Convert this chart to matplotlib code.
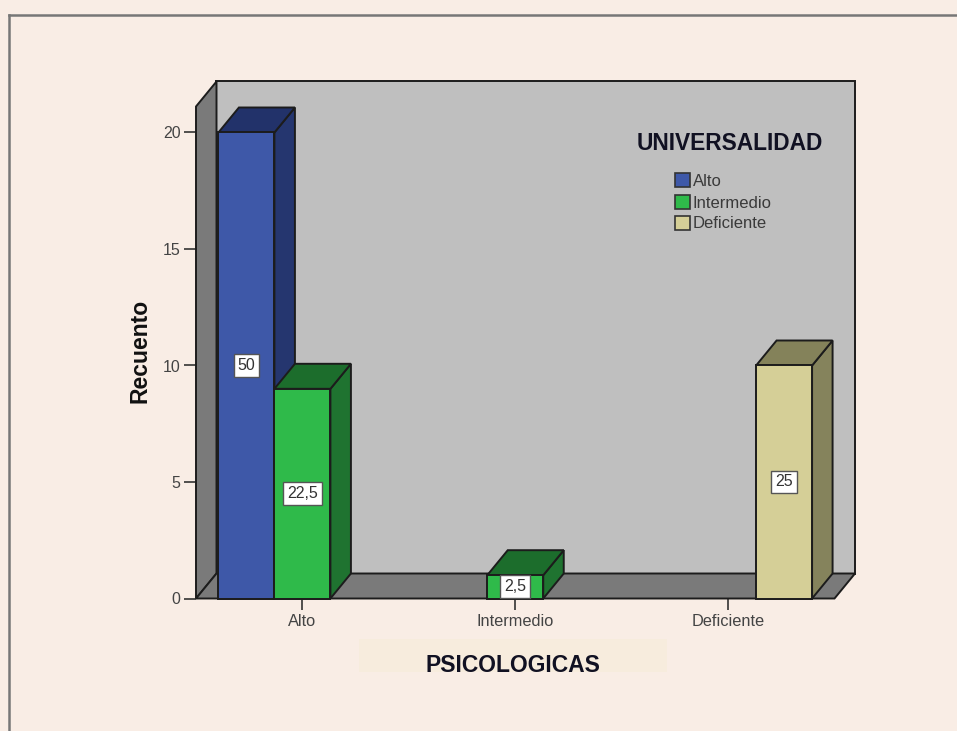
import matplotlib
matplotlib.use('Agg')
import matplotlib.pyplot as plt
from matplotlib.patches import Polygon, Rectangle

plt.rcParams['font.family'] = ['Liberation Sans', 'DejaVu Sans']

categories = ['Alto', 'Intermedio', 'Deficiente']
series_names = ['Alto', 'Intermedio', 'Deficiente']
alto_counts = [20, 0, 0]
intermedio_counts = [9, 1, 0]
deficiente_counts = [0, 0, 10]
alto_labels = ['50', '', '']
intermedio_labels = ['22,5', '2,5', '']
deficiente_labels = ['', '', '25']
y_ticks = [0, 5, 10, 15, 20]

front_colors = ['#3e58a8', '#2fba4a', '#d5cf97']
top_colors = ['#22326a', '#1c6d2c', '#84825a']
side_colors = ['#25366f', '#1f7330', '#85835c']
edge = '#1c1c1c'

W, H = 957, 731
fig = plt.figure(figsize=(W / 100, H / 100), dpi=100, facecolor='#f9ede5')


def fig_rect(x0, y0, x1, y1):
    return [x0 / W, 1 - y1 / H, (x1 - x0) / W, (y1 - y0) / H]


# frame of the screenshot, only top and left are visible
fig.add_artist(plt.Line2D([9 / W, 9 / W], [0, 1 - 15 / H], color='#777777', lw=1.8))
fig.add_artist(plt.Line2D([9 / W, 1], [1 - 15 / H, 1 - 15 / H], color='#777777', lw=1.8))

# front plane of the 3d box
left, right, bottom, top = 196, 834.5, 598.5, 106.5
ax = fig.add_axes(fig_rect(left, top, right, bottom))
ax.patch.set_visible(False)
ax.set_xlim(-0.5, 2.5)
ax.set_ylim(0, (bottom - top) / 23.3)
for s in ax.spines.values():
    s.set_visible(False)

dx = 20.5 * 3 / (right - left)
dy = 25 / 23.3
ymax = ax.get_ylim()[1]
bar_w = 56 * 3 / (right - left)

# back wall, side wall and floor
ax.add_patch(Rectangle((-0.5 + dx, dy), 3, ymax, fc='#bfbfbf', ec=edge, lw=1.4,
                       clip_on=False, zorder=1))
ax.add_patch(Polygon([(-0.5, 0), (-0.5 + dx, dy), (-0.5 + dx, ymax + dy), (-0.5, ymax)],
                     fc='#7a7a7a', ec=edge, lw=1.4, clip_on=False, zorder=2))
ax.add_patch(Polygon([(-0.5, 0), (-0.5 + dx, dy), (2.5 + dx, dy), (2.5, 0)],
                     fc='#7a7a7a', ec=edge, lw=1.4, clip_on=False, zorder=2))

all_counts = [alto_counts, intermedio_counts, deficiente_counts]
all_labels = [alto_labels, intermedio_labels, deficiente_labels]

for i, counts in enumerate(all_counts):
    offset = (i - 1) * bar_w
    for c, v in enumerate(counts):
        if v == 0:
            continue
        x0 = c + offset - bar_w / 2
        x1 = x0 + bar_w
        z = 5 + i
        ax.add_patch(Polygon([(x1, 0), (x1 + dx, dy), (x1 + dx, v + dy), (x1, v)],
                             fc=side_colors[i], ec=edge, lw=1.4, clip_on=False, zorder=z))
        ax.add_patch(Polygon([(x0, v), (x0 + dx, v + dy), (x1 + dx, v + dy), (x1, v)],
                             fc=top_colors[i], ec=edge, lw=1.4, clip_on=False, zorder=z))
        ax.bar(c + offset, v, width=bar_w, color=front_colors[i], edgecolor=edge,
               linewidth=1.4, zorder=z, clip_on=False)

for i, (counts, labels) in enumerate(zip(all_counts, all_labels)):
    offset = (i - 1) * bar_w
    for c, (v, lab) in enumerate(zip(counts, labels)):
        if lab:
            ax.text(c + offset, v / 2, lab, ha='center', va='center', fontsize=11.5,
                    color='#333333', zorder=10,
                    bbox=dict(boxstyle='square,pad=0.25', fc='white', ec='#555555', lw=1))

ax.set_yticks(y_ticks)
ax.set_xticks(range(3))
ax.set_xticklabels(categories)
ax.tick_params(axis='y', length=9, width=1.2, color='#333333', labelsize=11.5,
               labelcolor='#444444', pad=2)
ax.tick_params(axis='x', length=8, width=1.2, color='#333333', labelsize=11.8,
               labelcolor='#444444', pad=3)

ax.set_ylabel('Recuento', fontsize=16.5, fontweight='bold', color='#111111')
ax.yaxis.set_label_coords((151 - left) / (right - left), (bottom - 351) / (bottom - top))

# band behind the axis title
fig.add_artist(Rectangle((359 / W, 1 - 672 / H), 308 / W, 33 / H, fc='#f7ecdd', ec='none',
                         transform=fig.transFigure))
fig.text(513 / W, 1 - 665 / H, 'PSICOLOGICAS', ha='center', va='center', fontsize=16.5,
         fontweight='bold', color='#111122')

# legend, placed by hand inside the back wall
fig.text(730 / W, 1 - 144 / H, 'UNIVERSALIDAD', ha='center', va='center', fontsize=16.4,
         fontweight='bold', color='#111122')
legend_y = [180.5, 202, 223]
for name, col, yy in zip(series_names, front_colors, legend_y):
    fig.add_artist(Rectangle((675 / W, 1 - (yy + 7) / H), 15 / W, 14 / H, fc=col, ec='#333333',
                             lw=1.2, transform=fig.transFigure))
    fig.text(693 / W, 1 - (yy + 1) / H, name, ha='left', va='center', fontsize=12,
             color='#3a3a3a')

fig.savefig('out.png', dpi=100, facecolor=fig.get_facecolor())
